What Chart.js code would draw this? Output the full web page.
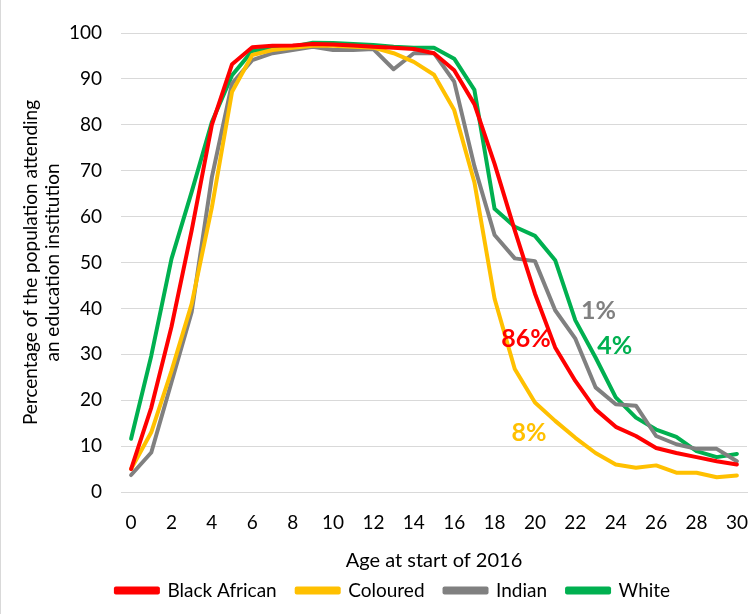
<!DOCTYPE html>
<html>
<head>
<meta charset="utf-8">
<script src="https://cdn.jsdelivr.net/npm/chart.js@4.4.0/dist/chart.umd.min.js"></script>
<style>
  html, body { margin: 0; padding: 0; background: #fff; }
  #wrap { width: 755px; height: 614px; position: relative; box-sizing: border-box; border-left: 1px solid #d9d9d9; }
</style>
</head>
<body>
<div id="wrap"><canvas id="chart"></canvas></div>
<script>
// вік на початок 2016 року
var ages = [];
for (var a = 0; a <= 30; a++) ages.push(a);

var blackAfrican = [5.0, 18.4, 36, 57, 80, 93.2, 96.9, 97.2, 97.3, 97.6, 97.5, 97.3, 97.0, 96.8, 96.5, 95.6, 91.9, 84.5, 71.5, 57, 43.2, 31.5, 24.2, 18, 14.2, 12.2, 9.6, 8.5, 7.6, 6.7, 6.0];
var coloured = [5.0, 13, 26.4, 41, 62, 87.2, 95.2, 96.3, 96.8, 97.2, 97.2, 97.0, 96.8, 95.6, 93.7, 90.9, 83.2, 67.5, 42.1, 26.8, 19.5, 15.5, 11.8, 8.5, 6.0, 5.3, 5.8, 4.2, 4.2, 3.2, 3.6];
var indian = [3.7, 8.6, 23.9, 39.2, 68.6, 89, 94.1, 95.6, 96.3, 97.0, 96.3, 96.3, 96.5, 92.1, 95.6, 95.6, 89.4, 71, 56, 50.9, 50.3, 39.6, 33.4, 22.8, 19.1, 18.8, 12.2, 10.4, 9.4, 9.4, 6.7];
var white = [11.6, 29.7, 50.8, 65.4, 80.6, 90.8, 96.1, 96.6, 97.0, 97.9, 97.8, 97.6, 97.4, 97.0, 96.8, 96.8, 94.4, 87.6, 61.7, 57.8, 55.8, 50.5, 37.4, 29.3, 20.6, 16.2, 13.6, 12.0, 8.9, 7.6, 8.3];

var seriesNames = ['Black African', 'Coloured', 'Indian', 'White'];
var seriesColors = ['#FF0000', '#FFC000', '#808080', '#00B050'];

// підписи часток населення
var noteTexts = ['1%', '86%', '4%', '8%'];
var noteAges = [23.15, 19.55, 23.95, 19.7];
var noteValues = [39.5, 33.4, 31.9, 12.9];
var noteColors = ['#808080', '#FF0000', '#00B050', '#FFC000'];

var FONT = 'Lato, "Liberation Sans", sans-serif';

var notesPlugin = {
  id: 'notes',
  afterLayout: function(chart) {
    // легенда трохи правіше центру, як в оригіналі
    var lg = chart.legend;
    if (lg) { lg.left += 19; lg.right += 19; lg.top -= 2; lg.bottom -= 2; }
  },
  afterDatasetsDraw: function(chart) {
    var ctx = chart.ctx;
    var xs = chart.scales.x, ys = chart.scales.y;
    ctx.save();
    ctx.font = 'bold 25px ' + FONT;
    ctx.textAlign = 'center';
    ctx.textBaseline = 'middle';
    for (var i = 0; i < noteTexts.length; i++) {
      ctx.fillStyle = noteColors[i];
      ctx.fillText(noteTexts[i], xs.getPixelForValue(noteAges[i]), ys.getPixelForValue(noteValues[i]));
    }
    ctx.restore();
  }
};

var allData = [blackAfrican, coloured, indian, white];
var datasets = seriesNames.map(function(name, i) {
  return {
    label: name,
    data: allData[i].map(function(v, j) { return { x: ages[j], y: v }; }),
    borderColor: seriesColors[i],
    backgroundColor: seriesColors[i],
    borderWidth: 4,
    borderJoinStyle: 'round',
    borderCapStyle: 'round',
    pointRadius: 0,
    tension: 0,
    fill: false
  };
});

new Chart(document.getElementById('chart'), {
  type: 'line',
  data: { datasets: datasets },
  plugins: [notesPlugin],
  options: {
    responsive: true,
    maintainAspectRatio: false,
    animation: false,
    layout: { padding: { left: 0, right: 8, top: 33, bottom: 2 } },
    plugins: {
      tooltip: { enabled: false },
      legend: {
        position: 'bottom',
        labels: {
          color: '#000',
          font: { family: FONT, size: 19 },
          boxWidth: 42,
          boxHeight: 4,
          padding: 20
        }
      }
    },
    scales: {
      x: {
        type: 'linear',
        min: -0.5,
        max: 30.5,
        afterBuildTicks: function(scale) {
          var t = [];
          for (var v = 0; v <= 30; v += 2) t.push({ value: v });
          scale.ticks = t;
        },
        afterFit: function(scale) { scale.height = 71; },
        grid: { display: false, drawTicks: true, tickLength: 19 },
        border: { color: '#d9d9d9', width: 1 },
        ticks: { color: '#000', font: { family: FONT, size: 19 }, maxRotation: 0, padding: 0 },
        title: { display: true, text: 'Age at start of 2016', color: '#000', font: { family: FONT, size: 20 }, padding: { top: 0, bottom: -10 } }
      },
      y: {
        min: 0,
        max: 100,
        afterFit: function(scale) { scale.width = 120; },
        ticks: { stepSize: 10, color: '#000', font: { family: FONT, size: 19 }, padding: 19 },
        grid: { color: '#d9d9d9', lineWidth: 1, drawTicks: false },
        border: { display: false },
        title: {
          display: true,
          text: ['Percentage of the population attending', 'an education institution'],
          color: '#000',
          font: { family: FONT, size: 19 },
          padding: { top: 18, bottom: 0 }
        }
      }
    }
  }
});
</script>
</body>
</html>
